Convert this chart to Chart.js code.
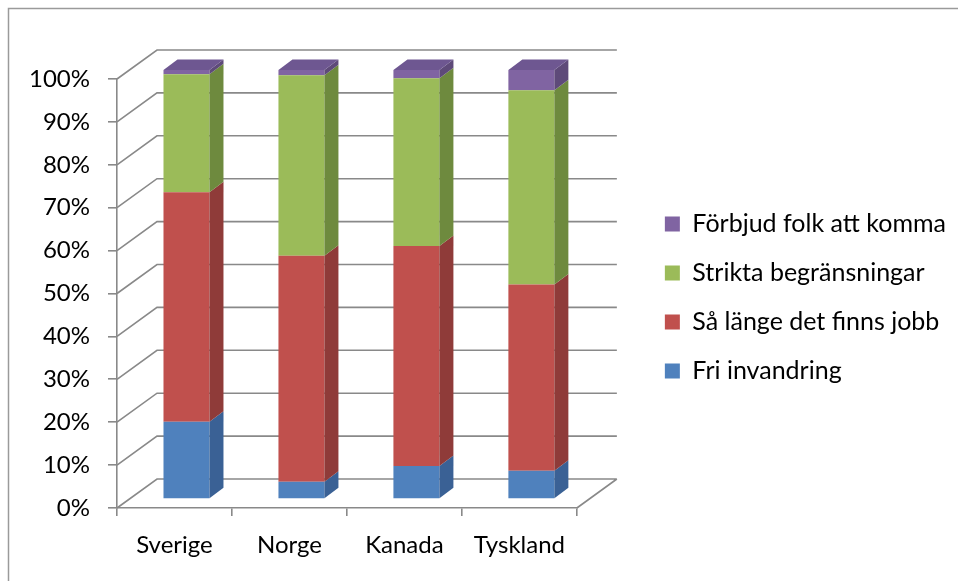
<!DOCTYPE html>
<html>
<head>
<meta charset="utf-8">
<script src="https://cdn.jsdelivr.net/npm/chart.js@4.4.1/dist/chart.umd.min.js"></script>
<style>
  html, body { margin: 0; padding: 0; background: #fff; }
  canvas { display: block; }
</style>
</head>
<body>
<canvas id="chart" width="958" height="581"></canvas>
<script>
// Values (share of answers per country, %)
const countries = ['Sverige', 'Norge', 'Kanada', 'Tyskland'];
const friInvandring = [18, 4, 7.7, 6.6];
const saLangeJobb = [53.5, 52.7, 51.3, 43.4];
const striktaBegransningar = [27.5, 42.1, 39.1, 45.3];
const forbjudFolk = [1, 1.2, 1.9, 4.7];
const seriesNames = ['Fri invandring', 'Så länge det finns jobb', 'Strikta begränsningar', 'Förbjud folk att komma'];
const yMax = 100;
const yStep = 10;

const frontColors = ['#4F81BD', '#C0504D', '#9BBB59', '#8064A2'];
const sideColors = ['#3A6195', '#8F3B39', '#6E8A3E', '#5E4A79'];
const topColors = ['#4470A6', '#A64542', '#86A34C', '#6E5791'];
const gridColor = '#898989';
const fontFamily = 'Lato, "Open Sans", sans-serif';

// fake 3D: back wall offset and bar depth, in pixels
const wallDx = 40, wallDy = 29;
const barShiftX = 12, barShiftY = 9;
const barDx = 14, barDy = 10.5;

Chart.defaults.color = '#000';
Chart.defaults.font.family = fontFamily;

const wallsPlugin = {
    id: 'walls',
    beforeDraw(chart) {
        const { ctx, chartArea: a, scales: { y } } = chart;
        ctx.save();
        // outer frame of the chart
        ctx.strokeStyle = '#9a9a9a';
        ctx.lineWidth = 1.5;
        ctx.beginPath();
        ctx.moveTo(8.5, chart.height);
        ctx.lineTo(8.5, 8.5);
        ctx.lineTo(chart.width, 8.5);
        ctx.stroke();
        // left wall diagonals + back wall gridlines
        ctx.strokeStyle = gridColor;
        ctx.lineWidth = 1.6;
        ctx.beginPath();
        y.ticks.forEach(t => {
            const py = y.getPixelForValue(t.value);
            ctx.moveTo(a.left, py);
            ctx.lineTo(a.left + wallDx, py - wallDy);
            ctx.lineTo(a.right + wallDx, py - wallDy);
        });
        // right edge of the floor
        ctx.moveTo(a.right, a.bottom);
        ctx.lineTo(a.right + wallDx, a.bottom - wallDy);
        ctx.stroke();
        ctx.restore();
    },
    beforeDatasetsDraw(chart) {
        chart.ctx.save();
        chart.ctx.translate(barShiftX, -barShiftY);
    },
    afterDatasetsDraw(chart) {
        const ctx = chart.ctx;
        chart.data.labels.forEach((lbl, i) => {
            let topBar = null, topIdx = -1;
            chart.data.datasets.forEach((ds, d) => {
                const bar = chart.getDatasetMeta(d).data[i];
                const { x, y, base, width } = bar.getProps(['x', 'y', 'base', 'width'], true);
                const r = x + width / 2;
                ctx.fillStyle = sideColors[d];
                ctx.beginPath();
                ctx.moveTo(r, base);
                ctx.lineTo(r + barDx, base - barDy);
                ctx.lineTo(r + barDx, y - barDy);
                ctx.lineTo(r, y);
                ctx.closePath();
                ctx.fill();
                if (ds.data[i] > 0) { topBar = { x, y, width }; topIdx = d; }
            });
            if (topBar) {
                const l = topBar.x - topBar.width / 2, r = topBar.x + topBar.width / 2;
                ctx.fillStyle = topColors[topIdx];
                ctx.beginPath();
                ctx.moveTo(l, topBar.y);
                ctx.lineTo(r, topBar.y);
                ctx.lineTo(r + barDx, topBar.y - barDy);
                ctx.lineTo(l + barDx, topBar.y - barDy);
                ctx.closePath();
                ctx.fill();
            }
        });
        ctx.restore();
    }
};

new Chart(document.getElementById('chart'), {
    type: 'bar',
    data: {
        labels: countries,
        datasets: [friInvandring, saLangeJobb, striktaBegransningar, forbjudFolk].map((vals, i) => ({
            label: seriesNames[i],
            data: vals,
            backgroundColor: frontColors[i],
            borderWidth: 0,
            clip: false,
            barPercentage: 0.4,
            categoryPercentage: 1
        }))
    },
    options: {
        responsive: false,
        animation: false,
        devicePixelRatio: 1,
        layout: { padding: { top: 79, left: 0, right: 2, bottom: 0 } },
        plugins: {
            legend: {
                position: 'right',
                fullSize: false,
                reverse: true,
                maxWidth: 400,
                // empty title only nudges the items down a little
                title: { display: true, text: ' ', font: { size: 6, lineHeight: 1 }, padding: 1 },
                labels: { boxWidth: 15, boxHeight: 15, padding: 24, color: '#000', font: { size: 25 } }
            },
            tooltip: { enabled: false }
        },
        scales: {
            x: {
                stacked: true,
                grid: { drawOnChartArea: false, tickLength: 8, color: gridColor, lineWidth: 1.6 },
                border: { color: gridColor, width: 1.6 },
                ticks: { color: '#000', font: { size: 24 }, padding: 15 },
                afterFit: s => { s.height = 73; }
            },
            y: {
                stacked: true,
                min: 0,
                max: yMax,
                grid: { drawOnChartArea: false, tickLength: 9, color: gridColor, lineWidth: 1.6 },
                border: { color: gridColor, width: 1.6 },
                ticks: { stepSize: yStep, color: '#000', font: { size: 24 }, padding: 18, callback: v => v + '%' },
                afterFit: s => { s.width = 117; }
            },
            spacer: {
                type: 'linear',
                axis: 'y',
                position: 'right',
                grid: { display: false },
                border: { display: false },
                ticks: { display: false },
                afterFit: s => { s.width = 64; }
            }
        }
    },
    plugins: [wallsPlugin]
});
</script>
</body>
</html>
